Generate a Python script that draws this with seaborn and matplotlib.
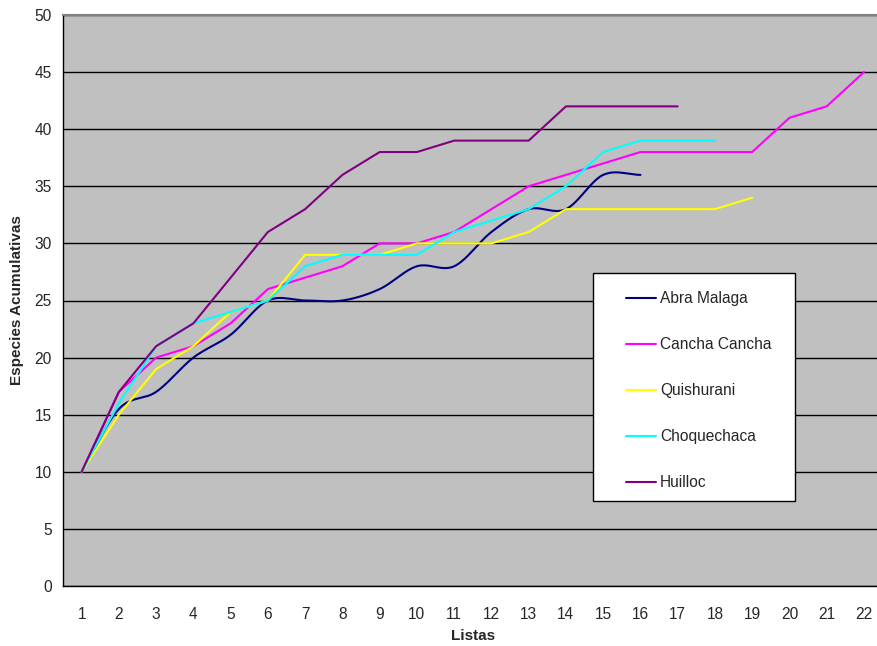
import numpy as np
import pandas as pd
import matplotlib
matplotlib.use("Agg")
import matplotlib.pyplot as plt
from matplotlib.patches import Rectangle
from matplotlib.lines import Line2D
import seaborn as sns

sns.set_style("white")
plt.rcParams["font.family"] = ["Liberation Sans", "DejaVu Sans"]

# Cumulative species count per survey list, by locality
listas = list(range(1, 23))
abra_malaga = [10, 15.5, 17, 20, 22, 25, 25, 25, 26, 28, 28, 31, 33, 33, 36, 36]
cancha_cancha = [10, 17, 20, 21, 23, 26, 27, 28, 30, 30, 31, 33, 35, 36, 37, 38,
                 38, 38, 38, 41, 42, 45]
quishurani = [10, 15, 19, 21, 24, 25, 29, 29, 29, 30, 30, 30, 31, 33, 33, 33,
              33, 33, 34]
choquechaca = [10, 16, 21, 23, 24, 25, 28, 29, 29, 29, 31, 32, 33, 35, 38, 39,
               39, 39]
huilloc = [10, 17, 21, 23, 27, 31, 33, 36, 38, 38, 39, 39, 39, 42, 42, 42, 42]

series_names = ["Abra Malaga", "Cancha Cancha", "Quishurani", "Choquechaca", "Huilloc"]
series_values = [abra_malaga, cancha_cancha, quishurani, choquechaca, huilloc]
series_colors = ["#000080", "#FF00FF", "#FFFF00", "#00FFFF", "#800080"]
series_smooth = [True, False, False, False, False]
y_ticks = list(range(0, 51, 5))


def catmull_rom(x, y, n=24):
    """Smooth curve passing through every (x, y) point."""
    x = np.asarray(x, float)
    y = np.asarray(y, float)
    px = np.concatenate([[2 * x[0] - x[1]], x, [2 * x[-1] - x[-2]]])
    py = np.concatenate([[2 * y[0] - y[1]], y, [2 * y[-1] - y[-2]]])
    out_x, out_y = [], []
    t = np.linspace(0, 1, n, endpoint=False)
    for i in range(1, len(px) - 2):
        for p, out in ((px, out_x), (py, out_y)):
            p0, p1, p2, p3 = p[i - 1], p[i], p[i + 1], p[i + 2]
            seg = 0.5 * ((2 * p1) + (-p0 + p2) * t
                         + (2 * p0 - 5 * p1 + 4 * p2 - p3) * t ** 2
                         + (-p0 + 3 * p1 - 3 * p2 + p3) * t ** 3)
            out.extend(seg)
    out_x.append(x[-1])
    out_y.append(y[-1])
    return np.array(out_x), np.array(out_y)


W, H = 878, 646
fig = plt.figure(figsize=(W / 100, H / 100), dpi=100)
left_px, top_px, bottom_px, right_px = 63, 15, 586, 882.6
ax = fig.add_axes([left_px / W, (H - bottom_px) / H,
                   (right_px - left_px) / W, (bottom_px - top_px) / H])
ax.set_facecolor("#C0C0C0")

for name, vals, color, smooth in zip(series_names, series_values,
                                     series_colors, series_smooth):
    xs = listas[:len(vals)]
    if smooth:
        sx, sy = catmull_rom(xs, vals)
        df = pd.DataFrame({"Listas": sx, "Especies": sy})
    else:
        df = pd.DataFrame({"Listas": xs, "Especies": vals})
    sns.lineplot(data=df, x="Listas", y="Especies", ax=ax, color=color,
                 linewidth=1.5, sort=False, estimator=None, legend=False)

ax.set_xlim(0.5, 22.5)
ax.set_ylim(0, 50)
ax.set_yticks(y_ticks)
ax.set_yticklabels([str(v) for v in y_ticks], fontsize=11.2)
ax.set_xticks(listas)
ax.set_xticklabels([str(v) for v in listas], fontsize=11.2)
ax.set_xticks(np.arange(0.5, 23, 1), minor=True)
ax.tick_params(axis="x", which="major", length=0, pad=15)
ax.tick_params(axis="x", which="minor", length=5, width=1, color="black",
               direction="out")
ax.tick_params(axis="y", which="major", length=5, width=1, color="black",
               direction="out", pad=3)

ax.yaxis.grid(True, color="black", linewidth=1)
ax.xaxis.grid(False)
ax.set_axisbelow(True)
for side in ("left", "bottom"):
    ax.spines[side].set_color("black")
    ax.spines[side].set_linewidth(1)
ax.spines["top"].set_color("#808080")
ax.spines["top"].set_linewidth(1.5)
ax.spines["right"].set_visible(False)

ax.set_xlabel("Listas", fontsize=11, fontweight="bold", va="center")
ax.set_ylabel("Especies Acumulativas", fontsize=11, fontweight="bold",
              va="center")
ax.xaxis.set_label_coords((472.7 - left_px) / (right_px - left_px),
                          -(636 - bottom_px) / (bottom_px - top_px))
ax.yaxis.set_label_coords(-(left_px - 17) / (right_px - left_px), 0.5)

# Legend box
box_l, box_t, box_r, box_b = 593, 273, 795, 501
fig.patches.append(Rectangle((box_l / W, (H - box_b) / H),
                             (box_r - box_l) / W, (box_b - box_t) / H,
                             transform=fig.transFigure, facecolor="white",
                             edgecolor="black", linewidth=1, zorder=3))
handles = [Line2D([], [], color=c, linewidth=1.5) for c in series_colors]
fig.legend(handles, series_names, loc="upper left",
           bbox_to_anchor=(626 / W, (H - 291) / H), frameon=False,
           fontsize=11.2, borderpad=0, borderaxespad=0, handlelength=1.95,
           handletextpad=0.25, labelspacing=2.0)

fig.savefig("out.png", dpi=100)
